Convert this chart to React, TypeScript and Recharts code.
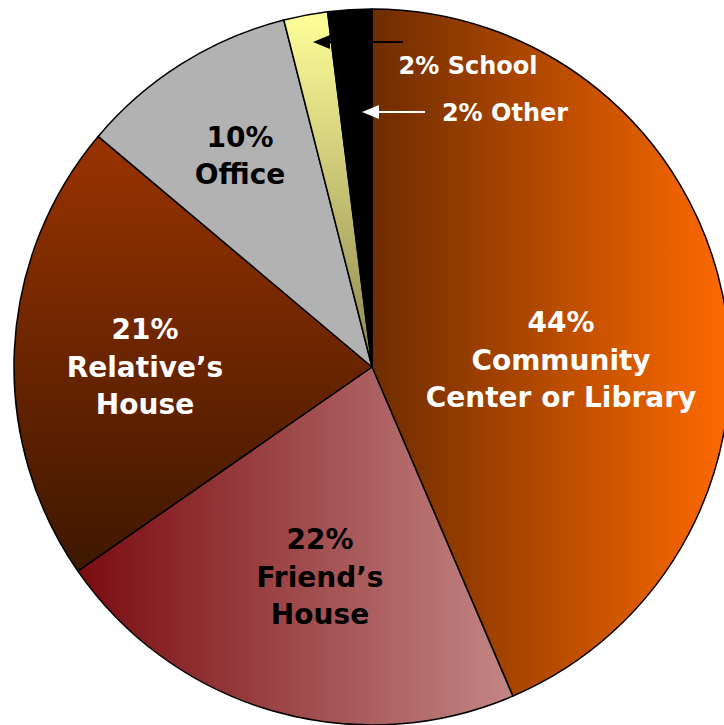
import React from 'react';
import { PieChart, Pie, Cell } from 'recharts';

const categories = ['Community Center or Library', 'Friend’s House', 'Relative’s House', 'Office', 'School', 'Other'];
const shares = [44, 22, 21, 10, 2, 2];
const labelLines = [
  ['44%', 'Community', 'Center or Library'],
  ['22%', 'Friend’s', 'House'],
  ['21%', 'Relative’s', 'House'],
  ['10%', 'Office'],
  ['2% School'],
  ['2% Other'],
];

const fills = ['url(#gCommunity)', 'url(#gFriend)', 'url(#gRelative)', '#B2B2B2', 'url(#gSchool)', '#000000'];
const labelColors = ['#FFFFFF', '#000000', '#FFFFFF', '#000000', '#FFFFFF', '#FFFFFF'];

// label placement relative to the pie centre
const labelPos = [
  { dx: 189, dy: -7, size: 28 },
  { dx: -52, dy: 210, size: 28 },
  { dx: -227, dy: 0, size: 28 },
  { dx: -132, dy: -211, size: 28 },
  { dx: 96, dy: -301, size: 24 },
  { dx: 133, dy: -254, size: 24 },
];
// callout arrows: from x1 to tip x2 at height y, relative to centre
const arrows: Record<number, { x1: number; x2: number; y: number; color: string }> = {
  4: { x1: 31, x2: -59, y: -325, color: '#000000' },
  5: { x1: 53, x2: -10, y: -255, color: '#FFFFFF' },
};

const data = categories.map((name, i) => ({ name, value: shares[i] }));

const renderLabel = (props: any) => {
  const { cx, cy, index } = props;
  const pos = labelPos[index];
  const lines = labelLines[index];
  const lh = pos.size * 1.34;
  const top = cy + pos.dy - ((lines.length - 1) * lh) / 2;
  const arrow = arrows[index];
  return (
    <g key={`lbl-${index}`}>
      {arrow && (
        <g>
          <line
            x1={cx + arrow.x1}
            y1={cy + arrow.y}
            x2={cx + arrow.x2 + 14}
            y2={cy + arrow.y}
            stroke={arrow.color}
            strokeWidth={2}
          />
          <polygon
            points={`${cx + arrow.x2},${cy + arrow.y} ${cx + arrow.x2 + 17},${cy + arrow.y - 7} ${cx + arrow.x2 + 17},${cy + arrow.y + 7}`}
            fill={arrow.color}
          />
        </g>
      )}
      {lines.map((t, j) => (
        <text
          key={j}
          x={cx + pos.dx}
          y={top + j * lh}
          textAnchor="middle"
          dominantBaseline="central"
          fill={labelColors[index]}
          fontSize={pos.size}
          fontWeight="bold"
          fontFamily="'DejaVu Sans', Verdana, sans-serif"
        >
          {t}
        </text>
      ))}
    </g>
  );
};

export default function App() {
  return (
    <div style={{ position: 'absolute', left: 0, top: 0, width: 724, height: 725, background: '#FFFFFF', overflow: 'hidden' }}>
      <svg width={0} height={0} style={{ position: 'absolute' }}>
        <defs>
          <linearGradient id="gCommunity" x1="0" y1="0" x2="1" y2="0">
            <stop offset="0%" stopColor="#6E2C00" />
            <stop offset="100%" stopColor="#FF6A00" />
          </linearGradient>
          <linearGradient id="gFriend" x1="0" y1="0" x2="1" y2="0">
            <stop offset="0%" stopColor="#7A0C10" />
            <stop offset="100%" stopColor="#C48686" />
          </linearGradient>
          <linearGradient id="gRelative" x1="0" y1="0" x2="0" y2="1">
            <stop offset="0%" stopColor="#993300" />
            <stop offset="100%" stopColor="#3E1700" />
          </linearGradient>
          <linearGradient id="gSchool" x1="0" y1="0" x2="0" y2="1">
            <stop offset="0%" stopColor="#FFFF99" />
            <stop offset="100%" stopColor="#8C8650" />
          </linearGradient>
        </defs>
      </svg>
      <PieChart width={724} height={725} margin={{ top: 0, right: 0, bottom: 0, left: 0 }}>
        <Pie
          data={data}
          dataKey="value"
          nameKey="name"
          cx={372}
          cy={367}
          outerRadius={358}
          startAngle={90}
          endAngle={-270}
          stroke="#000000"
          strokeWidth={1.5}
          label={renderLabel}
          labelLine={false}
          isAnimationActive={false}
        >
          {data.map((d, i) => (
            <Cell key={d.name} fill={fills[i]} />
          ))}
        </Pie>
      </PieChart>
    </div>
  );
}
